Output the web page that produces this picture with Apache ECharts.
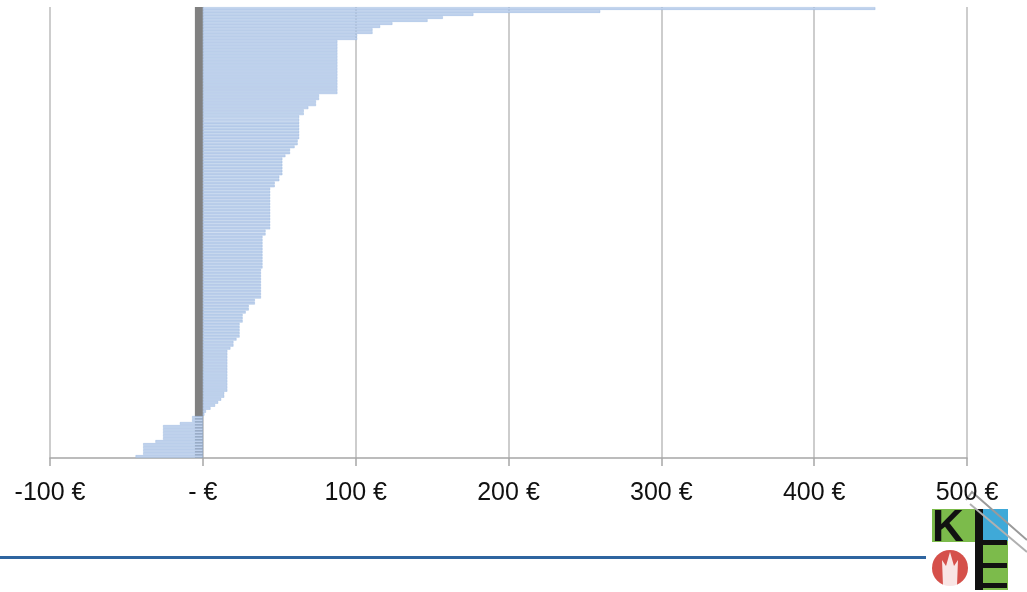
<!DOCTYPE html>
<html>
<head>
<meta charset="utf-8">
<script src="https://cdn.jsdelivr.net/npm/echarts@6/dist/echarts.min.js"></script>
<style>
html,body{margin:0;padding:0;background:#fff;}
#chart{width:1027px;height:592px;}
</style>
</head>
<body>
<div id="chart"></div>
<script>
// Values, sorted from top bar to bottom bar (€)
const values = [
  440, 260, 177, 157, 147, 124, 116, 111, 111, 101, 101,
  88, 88, 88, 88, 88, 88, 88, 88, 88, 88, 88, 88, 88, 88, 88, 88, 88, 88,
  76, 76, 74, 74, 69, 66, 66,
  63, 63, 63, 63, 63, 63, 63, 63, 62, 62, 60, 57, 57, 54,
  52, 52, 52, 52, 52, 52, 50, 50, 47, 47,
  44, 44, 44, 44, 44, 44, 44, 44, 44, 44, 44, 44, 44, 44,
  41, 41,
  39, 39, 39, 39, 39, 39, 39, 39, 39, 39, 39,
  38, 38, 38, 38, 38, 38, 38, 38, 38, 38,
  34, 34, 30, 30, 28, 26, 26, 26, 24, 24, 24, 24, 24, 22, 20, 20, 18,
  16, 16, 16, 16, 16, 16, 16, 16, 16, 16, 16, 16, 16, 16,
  14, 14, 12, 10, 8, 5, 2, 1,
  -7, -7, -15, -26, -26, -26, -26, -26, -31, -39, -39, -39, -39, -44
];
const categories = values.map((v, i) => 'P' + (i + 1));
const tickValues = [-100, 0, 100, 200, 300, 400, 500];

const chart = echarts.init(document.getElementById('chart'), null, {renderer: 'canvas'});
const option = {
  animation: false,
  backgroundColor: '#ffffff',
  grid: {left: 50, right: 60, top: 7, bottom: 134, containLabel: false},
  xAxis: {
    type: 'value',
    min: tickValues[0],
    max: tickValues[tickValues.length - 1],
    interval: 100,
    axisLine: {show: true, lineStyle: {color: '#a6a6a6', width: 1.5}},
    axisTick: {show: true, length: 8, lineStyle: {color: '#a6a6a6', width: 1.5}},
    splitLine: {show: true, lineStyle: {color: '#bdbdbd', width: 1.5}},
    axisLabel: {
      margin: 23,
      color: '#111',
      fontFamily: 'Liberation Sans, Arial, sans-serif',
      fontSize: 25,
      formatter: v => v === 0 ? '- €' : v + ' €'
    }
  },
  yAxis: {
    type: 'category',
    inverse: true,
    data: categories,
    axisLine: {show: false},
    axisTick: {show: false},
    axisLabel: {show: false},
    splitLine: {show: false}
  },
  series: [
    {
      type: 'bar',
      data: values,
      barCategoryGap: '12%',
      itemStyle: {color: '#bfd1ec', borderColor: '#93b2de', borderWidth: 0.4},
      z: 2
    },
    {
      type: 'line',
      data: [],
      z: 4,
      markArea: {
        silent: true,
        itemStyle: {color: '#808080', opacity: 1},
        data: [[{xAxis: -5.2}, {xAxis: 0}]]
      }
    }
  ],
  graphic: [
    {type: 'rect', shape: {x: 0, y: 556, width: 926, height: 3}, style: {fill: '#2f65a0'}},
    // logo
    {type: 'rect', shape: {x: 932, y: 509, width: 44, height: 33}, style: {fill: '#7cbb4b'}},
    {type: 'rect', shape: {x: 976, y: 509, width: 32, height: 32}, style: {fill: '#3fa9d8'}},
    {type: 'rect', shape: {x: 976, y: 541, width: 32, height: 49}, style: {fill: '#7cbb4b'}},
    {type: 'text', x: 932, y: 507, style: {text: 'K', font: 'bold 44px Liberation Sans, Arial', fill: '#111'}},
    {type: 'rect', shape: {x: 975, y: 509, width: 8, height: 81}, style: {fill: '#111'}},
    {type: 'rect', shape: {x: 975, y: 540, width: 32, height: 5}, style: {fill: '#111'}},
    {type: 'rect', shape: {x: 975, y: 563, width: 32, height: 5}, style: {fill: '#111'}},
    {type: 'rect', shape: {x: 975, y: 583, width: 32, height: 5}, style: {fill: '#111'}},
    {type: 'circle', shape: {cx: 950, cy: 568, r: 18}, style: {fill: '#d5504a'}},
    {type: 'polygon', shape: {points: [[950, 552], [954, 566], [958, 560], [957, 586], [943, 586], [942, 560], [946, 566]]}, style: {fill: '#ffffff', opacity: 0.85}},
    {type: 'polyline', shape: {points: [[966, 500], [972, 492], [1027, 540]]}, style: {stroke: '#9a9a9a', lineWidth: 2, fill: null}},
    {type: 'polyline', shape: {points: [[970, 504], [1027, 552]]}, style: {stroke: '#b0b0b0', lineWidth: 2, fill: null}}
  ]
};
chart.setOption(option);
</script>
</body>
</html>
